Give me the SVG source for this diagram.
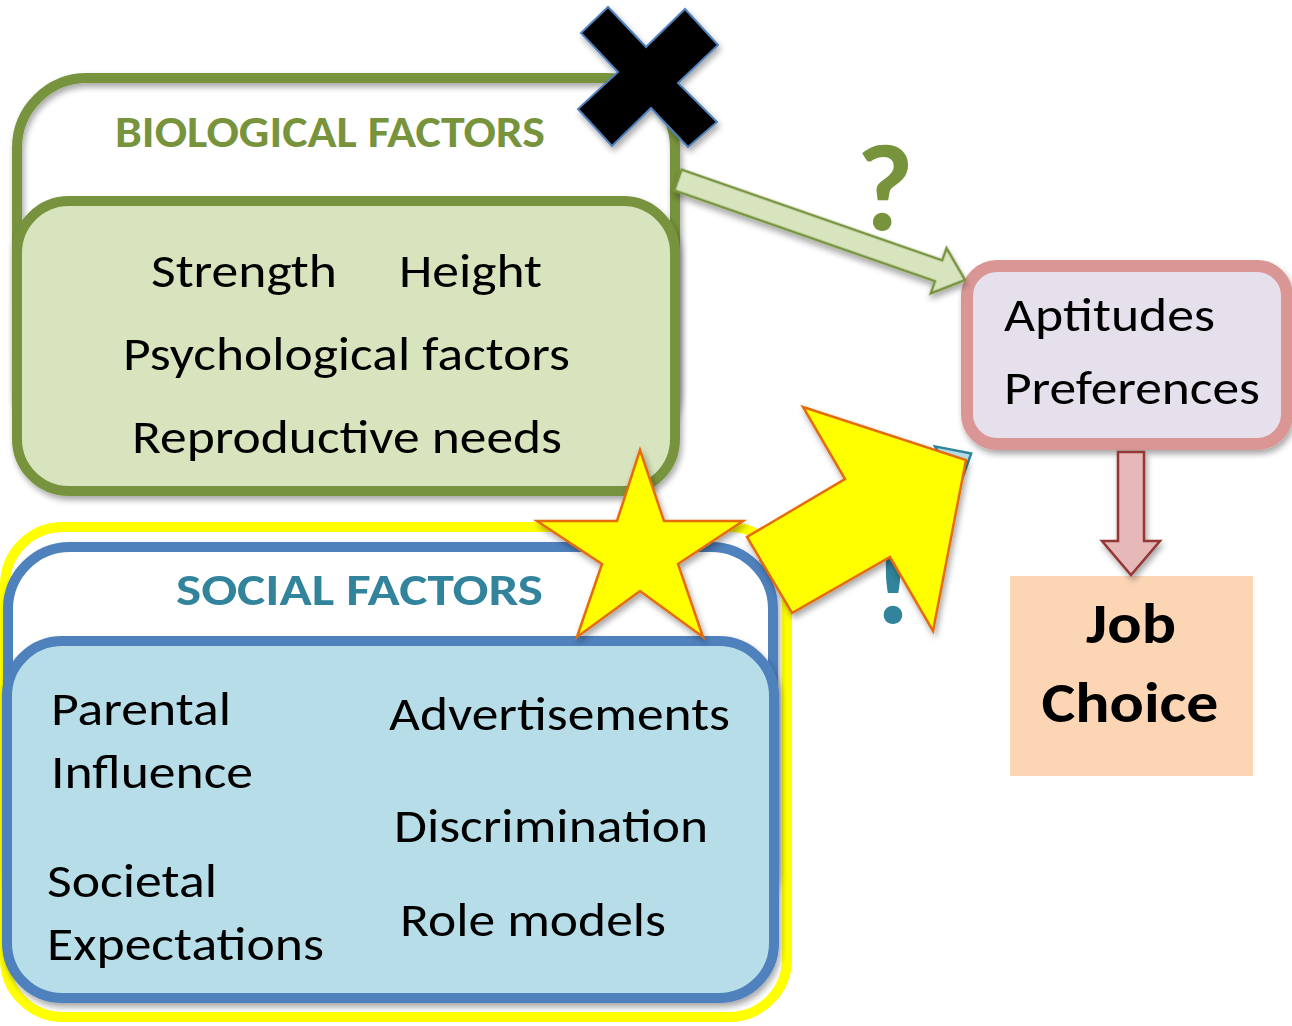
<svg xmlns="http://www.w3.org/2000/svg" width="1292" height="1026" viewBox="0 0 1292 1026">
  <defs>
    <filter id="shadow" x="-10%" y="-10%" width="130%" height="130%">
      <feGaussianBlur in="SourceAlpha" stdDeviation="3"/>
      <feOffset dx="2" dy="4" result="b"/>
      <feComponentTransfer><feFuncA type="linear" slope="0.35"/></feComponentTransfer>
      <feMerge><feMergeNode/><feMergeNode in="SourceGraphic"/></feMerge>
    </filter>
  </defs>
  <style>
    text { font-family: Carlito, Calibri, Lato, "Liberation Sans", sans-serif; }
    .body { font-size: 47px; fill: #000; }
    .title { font-size: 44px; font-weight: bold; }
    .mark { font-size: 124px; font-weight: 900; text-anchor: middle; }
    .bio-line { fill: none; stroke: #77933C; stroke-width: 10; }
    .bio-fill { fill: #D7E4BD; stroke: #77933C; stroke-width: 10; }
    .soc-line { fill: #FFFFFF; stroke: #4F81BD; stroke-width: 10; }
    .soc-fill { fill: #B7DEE8; stroke: #4F81BD; stroke-width: 10; }
    .burst { fill: #FFFF00; stroke: #E46C0A; stroke-width: 2.5; stroke-linejoin: miter; }
  </style>

  <rect width="1292" height="1026" fill="#FFFFFF"/>

  <!-- Biological factors group -->
  <g id="biological">
    <rect class="bio-line" x="17" y="78" width="658" height="380" rx="70" filter="url(#shadow)"/>
    <text class="title" x="115" y="147" fill="#77933C" textLength="430" lengthAdjust="spacingAndGlyphs">BIOLOGICAL FACTORS</text>
    <rect class="bio-fill" x="17" y="201" width="658" height="290" rx="52" filter="url(#shadow)"/>
    <text class="body" x="151" y="287" textLength="186" lengthAdjust="spacingAndGlyphs">Strength</text>
    <text class="body" x="399" y="287" textLength="143" lengthAdjust="spacingAndGlyphs">Height</text>
    <text class="body" x="123" y="370" textLength="447" lengthAdjust="spacingAndGlyphs">Psychological factors</text>
    <text class="body" x="132" y="453" textLength="430" lengthAdjust="spacingAndGlyphs">Reproductive needs</text>
  </g>

  <!-- Social factors group -->
  <g id="social">
    <rect x="5" y="527" width="782" height="490" rx="58" fill="#FFFFFF" stroke="#FFFF00" stroke-width="10"/>
    <rect class="soc-line" x="8" y="547" width="765" height="380" rx="62" filter="url(#shadow)"/>
    <text class="title" x="176" y="605" fill="#31849B" textLength="367" lengthAdjust="spacingAndGlyphs">SOCIAL FACTORS</text>
    <rect class="soc-fill" x="7" y="641" width="767" height="357" rx="55" filter="url(#shadow)"/>
    <text class="body" x="51" y="725" textLength="180" lengthAdjust="spacingAndGlyphs">Parental</text>
    <text class="body" x="51" y="788" textLength="202" lengthAdjust="spacingAndGlyphs">Influence</text>
    <text class="body" x="47" y="897" textLength="170" lengthAdjust="spacingAndGlyphs">Societal</text>
    <text class="body" x="47" y="960" textLength="277" lengthAdjust="spacingAndGlyphs">Expectations</text>
    <text class="body" x="389" y="730" textLength="341" lengthAdjust="spacingAndGlyphs">Advertisements</text>
    <text class="body" x="394" y="842" textLength="314" lengthAdjust="spacingAndGlyphs">Discrimination</text>
    <text class="body" x="400" y="936" textLength="266" lengthAdjust="spacingAndGlyphs">Role models</text>
  </g>

  <!-- Aptitudes / preferences -->
  <g id="aptitudes">
    <rect x="967" y="266" width="320" height="178" rx="30" fill="#E6E0EC" stroke="#D99694" stroke-width="12" filter="url(#shadow)"/>
    <text class="body" x="1004" y="331" font-size="46" textLength="211" lengthAdjust="spacingAndGlyphs">Aptitudes</text>
    <text class="body" x="1004" y="404" font-size="46" textLength="256" lengthAdjust="spacingAndGlyphs">Preferences</text>
  </g>

  <!-- Job choice -->
  <g id="job-choice">
    <rect x="1010" y="576" width="243" height="200" fill="#FCD5B5"/>
    <text x="1131" y="643" font-size="57" font-weight="bold" text-anchor="middle" textLength="90" lengthAdjust="spacingAndGlyphs">Job</text>
    <text x="1130" y="722" font-size="57" font-weight="bold" text-anchor="middle" textLength="177" lengthAdjust="spacingAndGlyphs">Choice</text>
  </g>

  <!-- Connectors -->
  <g id="connectors">
    <!-- biological to aptitudes -->
    <g transform="translate(678,180) rotate(19.2)" filter="url(#shadow)">
      <polygon points="0,-11 276,-11 276,-24 304,0 276,24 276,11 0,11" fill="#D7E4BD" stroke="#77933C" stroke-width="2.5"/>
    </g>
    <text class="mark" x="885" y="230" fill="#77933C">?</text>

    <!-- aptitudes to job choice -->
    <polygon points="1118,452 1144,452 1144,541 1160,541 1131,575 1102,541 1118,541" fill="#E6B9B8" stroke="#953735" stroke-width="2.5" filter="url(#shadow)"/>

    <!-- social to aptitudes -->
    <text class="mark" x="893" y="623" fill="#31849B">!</text>
    <g transform="translate(766,570) rotate(-29.6)">
      <polygon points="0,-11 208,-11 208,-24 236,0 208,24 208,11 0,11" fill="#B7DEE8" stroke="#31849B" stroke-width="2.5"/>
    </g>
  </g>

  <!-- Cross over the biological box -->
  <g id="cross" filter="url(#shadow)">
    <polygon points="608,7 646,47 685,9 718,45 678,83 717,122 688,147 651,108 612,146 578,109 618,72 581,33" fill="#000000" stroke="#4F81BD" stroke-width="2"/>
  </g>

  <!-- Bent arrow highlighting social factors -->
  <g id="bent-arrow" filter="url(#shadow)">
    <polygon class="burst" points="803,407 966,460 933,631 890,557 792,613 747,537 845,479"/>
  </g>

  <!-- Star -->
  <g id="star" filter="url(#shadow)">
    <polygon class="burst" points="640,450 664,521 743,521 678,564 703,637 640,591 577,637 602,564 537,521 617,521"/>
  </g>
</svg>
